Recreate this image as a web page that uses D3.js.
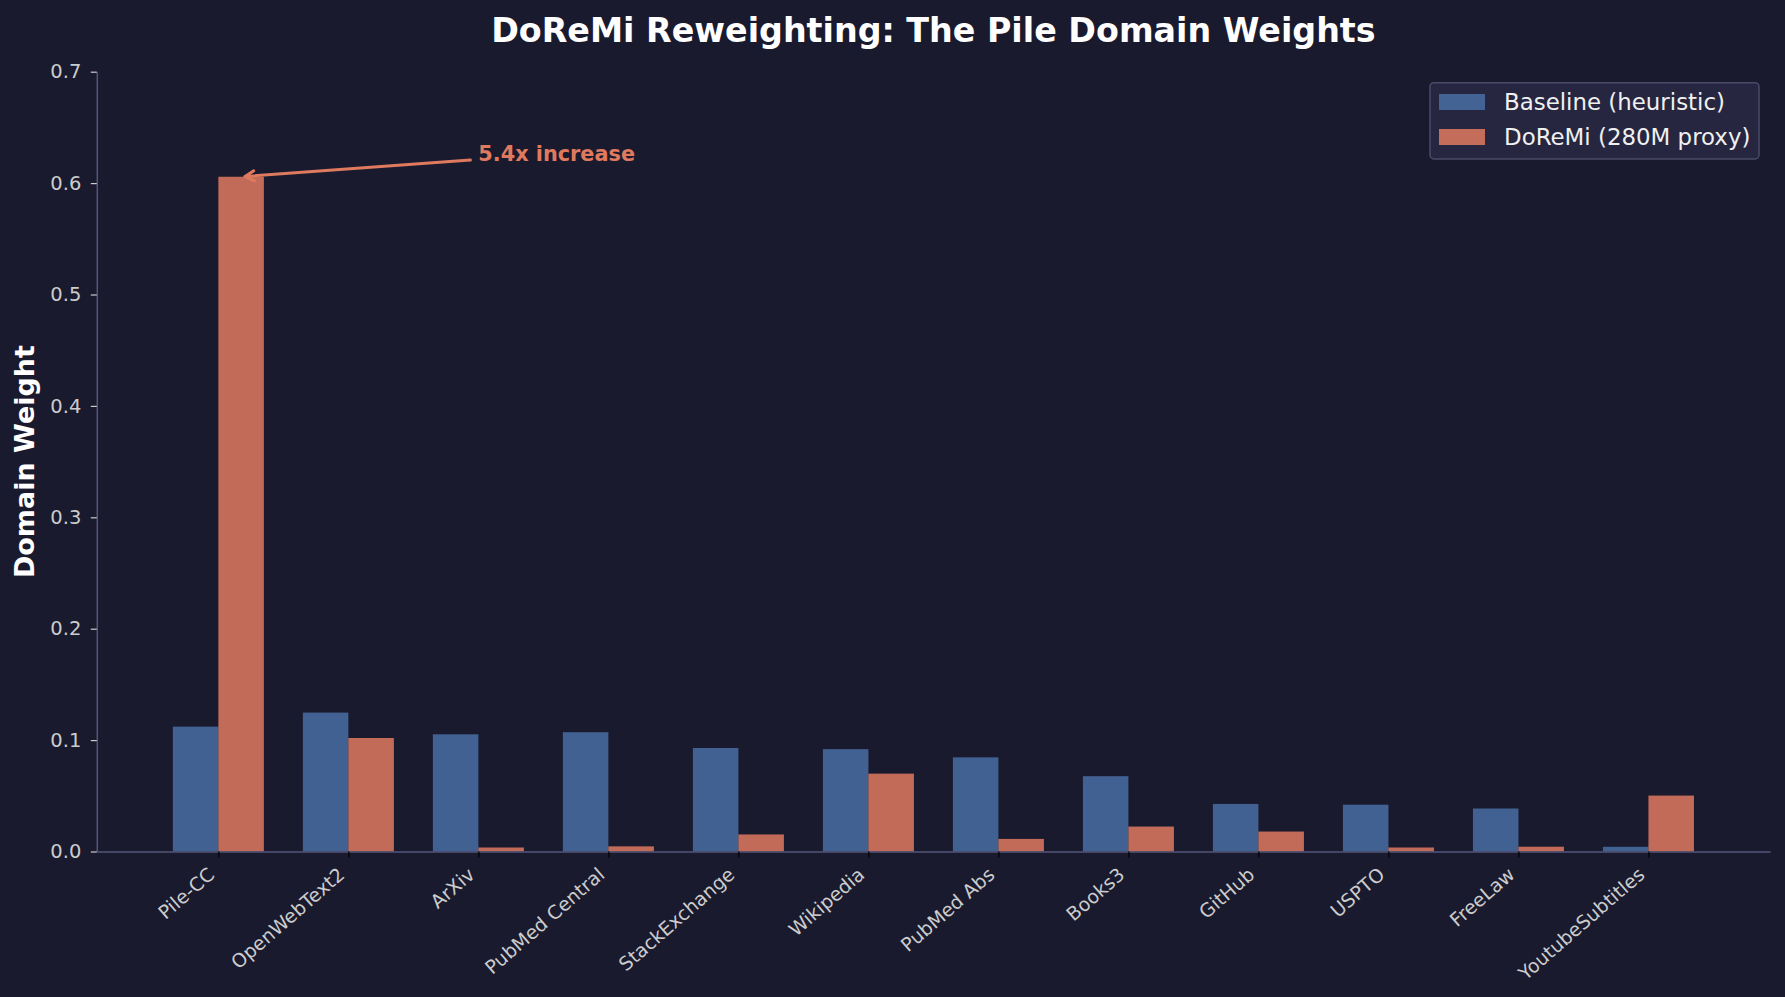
<!DOCTYPE html>
<html>
<head>
<meta charset="utf-8">
<script src="https://cdn.jsdelivr.net/npm/d3@7"></script>
<style>
  html, body { margin: 0; padding: 0; background: #1a1a2e; }
  svg { display: block; font-family: "DejaVu Sans", sans-serif; }
</style>
</head>
<body>
<svg id="chart" width="1785" height="997"></svg>
<script>
// ---- data ----
const categories = ["Pile-CC", "OpenWebText2", "ArXiv", "PubMed Central", "StackExchange", "Wikipedia",
  "PubMed Abs", "Books3", "GitHub", "USPTO", "FreeLaw", "YoutubeSubtitles"];
const baselineWeights = [0.1121, 0.1247, 0.1052, 0.1071, 0.0929, 0.0919, 0.0845, 0.0676, 0.0427, 0.0420, 0.0386, 0.0042];
const doremiWeights   = [0.6057, 0.1019, 0.0036, 0.0046, 0.0153, 0.0699, 0.0113, 0.0224, 0.0179, 0.0036, 0.0043, 0.0502];
const seriesNames = ["Baseline (heuristic)", "DoReMi (280M proxy)"];
const yTicks = [0.0, 0.1, 0.2, 0.3, 0.4, 0.5, 0.6, 0.7];
const titleText = "DoReMi Reweighting: The Pile Domain Weights";
const yLabelText = "Domain Weight";
const annotationText = "5.4x increase";

// ---- style ----
const W = 1785, H = 997;
const bg = "#1a1a2e";
const colors = ["#4a6fa5", "#e07a5f"];
const barOpacity = 0.85;
const spineColor = "#55557a";
const tickColor = "#cccccc";
const barW = 0.35;

const svg = d3.select("#chart");
svg.append("rect").attr("width", W).attr("height", H).attr("fill", bg);

const idx = categories.map((_, i) => i);
const x = d3.scaleLinear().domain([-0.935, 11.935]).range([96.8, 1770]);
const y = d3.scaleLinear().domain([0, 0.7]).range([851.5, 71.7]);

// bars
const series = [baselineWeights, doremiWeights];
series.forEach((vals, s) => {
  svg.append("g").selectAll("rect").data(vals).join("rect")
    .attr("x", (d, i) => x(i + (s === 0 ? -barW : 0)))
    .attr("width", x(barW) - x(0))
    .attr("y", d => y(d))
    .attr("height", d => y(0) - y(d))
    .attr("fill", colors[s])
    .attr("fill-opacity", barOpacity);
});

// y axis
const yAxis = svg.append("g").attr("transform", `translate(${x.range()[0]},0)`)
  .call(d3.axisLeft(y).tickValues(yTicks).tickFormat(d3.format(".1f")).tickSize(6).tickSizeOuter(0).tickPadding(9.5));
yAxis.select(".domain").attr("stroke", spineColor).attr("stroke-width", 1.5);
yAxis.selectAll(".tick line").attr("stroke", tickColor).attr("stroke-width", 1.2);
yAxis.selectAll(".tick text").attr("fill", tickColor).attr("font-size", 19.5)
  .attr("font-family", "DejaVu Sans");

// x axis
const xAxis = svg.append("g").attr("transform", `translate(0,${y(0)})`)
  .call(d3.axisBottom(x).tickValues(idx).tickFormat(i => categories[i]).tickSize(6).tickSizeOuter(0));
xAxis.select(".domain").attr("stroke", spineColor).attr("stroke-width", 1.5);
xAxis.selectAll(".tick line").attr("stroke", "#000000").attr("stroke-width", 1.2);
xAxis.selectAll(".tick text")
  .attr("fill", tickColor).attr("font-size", 19).attr("font-family", "DejaVu Sans")
  .attr("text-anchor", "end")
  .attr("y", 0).attr("dy", 0)
  .attr("transform", "translate(-3,25) rotate(-41)");

// title
svg.append("text").attr("x", (x.range()[0] + x.range()[1]) / 2).attr("y", 42)
  .attr("text-anchor", "middle").attr("fill", "#ffffff")
  .attr("font-size", 33.3).attr("font-weight", "bold").text(titleText);

// y label
svg.append("text").attr("transform", `translate(34,${(y(0) + y(0.7)) / 2}) rotate(-90)`)
  .attr("text-anchor", "middle").attr("fill", "#ffffff")
  .attr("font-size", 27).attr("font-weight", "bold").text(yLabelText);

// annotation
const ann = svg.append("text").attr("x", x(2)).attr("y", y(0.62))
  .attr("fill", colors[1]).attr("font-size", 20.8).attr("font-weight", "bold")
  .text(annotationText);
const bb = ann.node().getBBox();
const C = [bb.x + bb.width / 2, bb.y + bb.height / 2];
const T = [x(barW / 2), y(doremiWeights[0])];
const dx = T[0] - C[0], dy = T[1] - C[1];
const len = Math.hypot(dx, dy);
const ux = dx / len, uy = dy / len;
const pad = 4;
const halfW = bb.width / 2 + pad, halfH = bb.height / 2 + pad;
const tExit = Math.min(halfW / Math.abs(ux), halfH / Math.abs(uy));
const S = [C[0] + ux * (tExit + 4), C[1] + uy * (tExit + 4)];
const E = [T[0] - ux * 4, T[1] - uy * 4];
const arrow = svg.append("g").attr("stroke", colors[1]).attr("stroke-width", 3)
  .attr("fill", "none").attr("stroke-linecap", "round").attr("stroke-linejoin", "round");
arrow.append("line").attr("x1", S[0]).attr("y1", S[1]).attr("x2", E[0]).attr("y2", E[1]);
const hl = 9, hw = 5;
const px = -uy, py = ux;
arrow.append("path").attr("d",
  `M${E[0] - ux * hl + px * hw},${E[1] - uy * hl + py * hw} L${E[0]},${E[1]} L${E[0] - ux * hl - px * hw},${E[1] - uy * hl - py * hw}`);

// legend
const lg = svg.append("g");
lg.append("rect").attr("x", 1430).attr("y", 82.7).attr("width", 329).attr("height", 76.3)
  .attr("rx", 4).attr("fill", "#262640").attr("stroke", "#4a4a6a").attr("stroke-width", 1.5);
seriesNames.forEach((name, s) => {
  const cy = 102 + s * 35;
  lg.append("rect").attr("x", 1439).attr("y", cy - 8).attr("width", 46).attr("height", 16)
    .attr("fill", colors[s]).attr("fill-opacity", barOpacity);
  lg.append("text").attr("x", 1504).attr("y", cy).attr("dy", "0.36em")
    .attr("fill", "#f0f0f0").attr("font-size", 22.9).text(name);
});
</script>
</body>
</html>
